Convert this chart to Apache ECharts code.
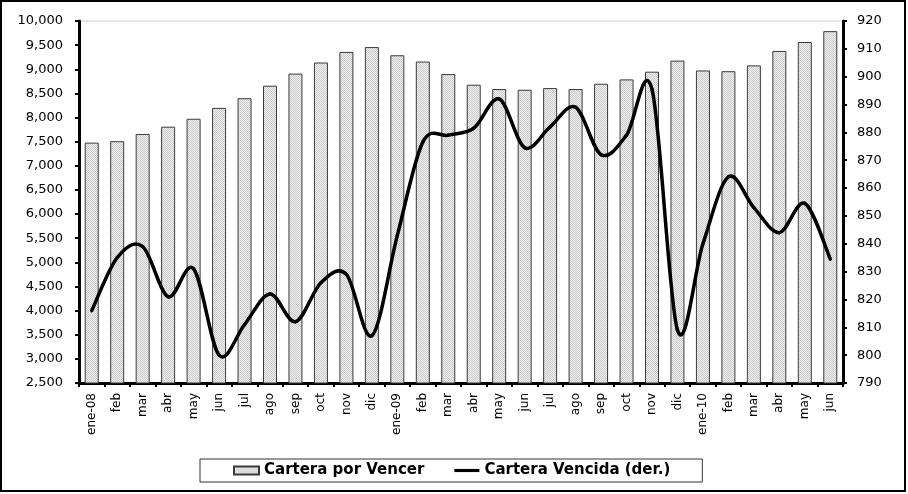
<!DOCTYPE html>
<html>
<head>
<meta charset="utf-8">
<script src="https://cdn.jsdelivr.net/npm/echarts@6/dist/echarts.min.js"></script>
<style>
  html, body { margin: 0; padding: 0; background: #fff; }
  #chart { width: 908px; height: 494px; }
</style>
</head>
<body>
<div id="chart"></div>
<script>
// Meses (ene-08 a jun-10)
const meses = ['ene-08','feb','mar','abr','may','jun','jul','ago','sep','oct','nov','dic',
               'ene-09','feb','mar','abr','may','jun','jul','ago','sep','oct','nov','dic',
               'ene-10','feb','mar','abr','may','jun'];

// Cartera por Vencer (eje izquierdo)
const carteraPorVencer = [7480, 7510, 7660, 7810, 7975, 8200, 8400, 8660, 8910, 9140, 9360, 9460,
                          9290, 9160, 8900, 8680, 8590, 8575, 8610, 8590, 8700, 8790, 8950, 9180,
                          8975, 8960, 9080, 9380, 9565, 9790];

// Cartera Vencida (eje derecho)
const carteraVencida = [816, 835, 839, 821, 831, 800, 811, 822, 812, 826, 829, 807,
                        843, 876.5, 879, 881.5, 892, 874.5, 882, 889, 872, 879, 895.5, 809,
                        840, 864, 853, 844, 854.5, 834.5];

// Ejes
const ejeIzq = { min: 2500, max: 10000, step: 500 };
const ejeDer = { min: 790, max: 920, step: 10 };

// Trama punteada gris para las barras
function trama() {
  const c = document.createElement('canvas');
  c.width = 2; c.height = 2;
  const g = c.getContext('2d');
  g.fillStyle = '#f0f0f0'; g.fillRect(0, 0, 2, 2);
  g.fillStyle = '#cacaca'; g.fillRect(0, 0, 1, 1); g.fillRect(1, 1, 1, 1);
  return c;
}
const relleno = { image: trama(), repeat: 'repeat' };

// Curva suavizada: cada tramo i -> i+1 es una Bézier cúbica (Catmull-Rom, tensión 1/6)
function tramoSuave(params, api) {
  const i = params.dataIndex;
  const n = carteraVencida.length;
  if (i >= n - 1) return null;
  const pt = k => {
    const j = Math.max(0, Math.min(n - 1, k));
    return api.coord([j, carteraVencida[j]]);
  };
  const p0 = pt(i - 1), p1 = pt(i), p2 = pt(i + 1), p3 = pt(i + 2);
  return {
    type: 'bezierCurve',
    shape: {
      x1: p1[0], y1: p1[1],
      x2: p2[0], y2: p2[1],
      cpx1: p1[0] + (p2[0] - p0[0]) / 6,
      cpy1: p1[1] + (p2[1] - p0[1]) / 6,
      cpx2: p2[0] - (p3[0] - p1[0]) / 6,
      cpy2: p2[1] - (p3[1] - p1[1]) / 6
    },
    style: { stroke: '#000', lineWidth: 3.5, fill: null, lineCap: 'round', lineJoin: 'round' }
  };
}

const fuente = 'DejaVu Sans';
const chart = echarts.init(document.getElementById('chart'), null, { renderer: 'canvas' });

chart.setOption({
  animation: false,
  backgroundColor: '#fff',
  textStyle: { fontFamily: fuente, color: '#000' },
  grid: {
    left: 79, right: 65, top: 21, bottom: 111,
    show: true, borderColor: '#d0d0d0', borderWidth: 1
  },
  legend: {
    left: 200, top: 459,
    padding: [4, 32, 4, 33],
    borderColor: '#333', borderWidth: 1,
    itemWidth: 25, itemHeight: 8, itemGap: 30,
    textStyle: { fontFamily: fuente, fontWeight: 'bold', fontSize: 15, color: '#000' },
    data: [
      { name: 'Cartera por Vencer', icon: 'rect' },
      { name: 'Cartera Vencida (der.)', icon: 'path://M0,0H28V3.5H0Z', itemStyle: { color: '#000' } }
    ]
  },
  xAxis: {
    type: 'category',
    data: meses,
    boundaryGap: true,
    axisLine: { lineStyle: { color: '#000', width: 3 } },
    axisTick: { show: true, length: 4, lineStyle: { color: '#000', width: 2 } },
    axisLabel: { rotate: 90, fontSize: 12, color: '#000', margin: 10, interval: 0, fontFamily: fuente },
    splitLine: { show: false }
  },
  yAxis: [
    {
      type: 'value',
      min: ejeIzq.min, max: ejeIzq.max, interval: ejeIzq.step,
      position: 'left',
      axisLine: { show: true, lineStyle: { color: '#000', width: 3 } },
      axisTick: { show: true, length: 4, lineStyle: { color: '#000', width: 2 } },
      axisLabel: {
        fontSize: 13, color: '#000', margin: 16, fontFamily: fuente,
        formatter: v => v.toLocaleString('en-US')
      },
      splitLine: { show: false }
    },
    {
      type: 'value',
      min: ejeDer.min, max: ejeDer.max, interval: ejeDer.step,
      position: 'right',
      axisLine: { show: true, lineStyle: { color: '#000', width: 3 } },
      axisTick: { show: true, length: 4, lineStyle: { color: '#000', width: 2 } },
      axisLabel: { fontSize: 13, color: '#000', margin: 14, fontFamily: fuente },
      splitLine: { show: false }
    }
  ],
  series: [
    {
      name: 'Cartera por Vencer',
      type: 'bar',
      yAxisIndex: 0,
      barWidth: 14,
      data: carteraPorVencer,
      itemStyle: { color: relleno, borderColor: '#3a3a3a', borderWidth: 1 }
    },
    {
      name: 'Cartera Vencida (der.)',
      type: 'custom',
      yAxisIndex: 1,
      data: carteraVencida.map((v, i) => [i, v]),
      encode: { x: 0, y: 1 },
      renderItem: tramoSuave,
      itemStyle: { color: '#000' },
      z: 5
    }
  ],
  graphic: [
    {
      type: 'rect',
      silent: true,
      z: 100,
      shape: { x: 1, y: 1, width: 904, height: 490 },
      style: { fill: 'none', stroke: '#000', lineWidth: 2 }
    }
  ]
});
</script>
</body>
</html>
